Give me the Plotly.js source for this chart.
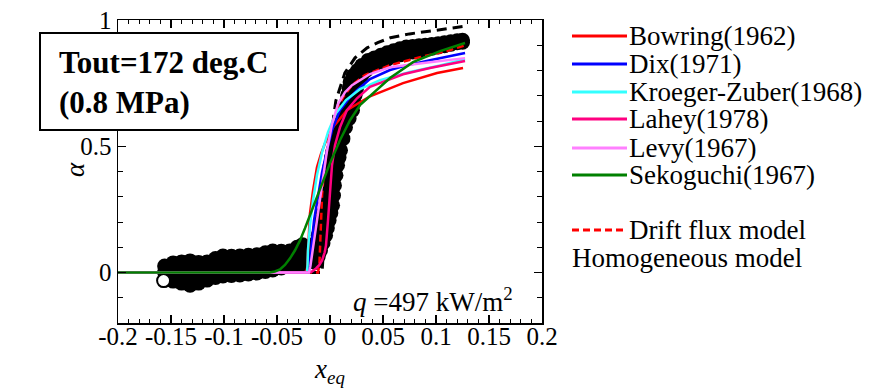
<!DOCTYPE html>
<html><head><meta charset="utf-8">
<script src="https://cdn.plot.ly/plotly-3.0.1.min.js"></script>
<style>html,body{margin:0;padding:0;background:#fff}</style>
</head><body><div id="chart" style="width:882px;height:388px"></div>
<script>
// ---- experimental data (void fraction vs equilibrium quality) ----
var flatX    = [-0.156,-0.148,-0.140,-0.132,-0.124,-0.116,-0.108,-0.101,-0.093,-0.085,-0.077,-0.069,-0.061,-0.054,-0.046,-0.038,-0.031,-0.026];
var flatTopY = [0.026,0.038,0.042,0.046,0.040,0.042,0.055,0.065,0.064,0.065,0.068,0.070,0.078,0.085,0.084,0.085,0.100,0.110];
var flatMidY = [0.000,0.004,0.000,-0.002,0.000,0.006,0.018,0.025,0.026,0.028,0.030,0.034,0.040,0.048,0.052,0.056,0.066,0.072];
var flatBotY = [-0.030,-0.034,-0.042,-0.050,-0.042,-0.030,-0.020,-0.014,-0.012,-0.010,-0.006,-0.002,0.004,0.010,0.018,0.026,0.030,0.035];

var riseY      = [0.040,0.065,0.087,0.117,0.147,0.176,0.206,0.236,0.266,0.305,0.345,0.385,0.425,0.455,0.484,0.530,0.575,0.610,0.643,0.672,0.702,0.730,0.754,0.780,0.800,0.820];
var riseRightX = [-0.0137,-0.0110,-0.0090,-0.0066,-0.0042,-0.0025,-0.0009,0.0008,0.0024,0.0033,0.0042,0.0056,0.0071,0.0085,0.0099,0.0122,0.0146,0.0180,0.0212,0.0224,0.0236,0.0250,0.0264,0.0300,0.0340,0.0380];
var riseLeftX  = [-0.0210,-0.0180,-0.0160,-0.0136,-0.0112,-0.0095,-0.0080,-0.0062,-0.0046,-0.0037,-0.0028,-0.0014,0.0001,0.0015,0.0029,0.0052,0.0076,0.0110,0.0142,0.0154,0.0166,0.0180,0.0190,0.0220,0.0260,0.0300];

var upperX    = [0.036,0.042,0.048,0.054,0.060,0.066,0.072,0.078,0.084,0.090,0.096,0.102,0.108,0.114,0.120,0.125];
var upperTopY = [0.840,0.850,0.860,0.870,0.878,0.886,0.893,0.895,0.898,0.900,0.903,0.906,0.910,0.914,0.918,0.920];
var upperBotY = [0.810,0.822,0.835,0.845,0.855,0.862,0.868,0.873,0.878,0.883,0.888,0.893,0.898,0.904,0.910,0.912];

var openPointX = [-0.157];
var openPointY = [-0.032];

// ---- correlations ----
var bowX = [-0.2,-0.0226,-0.0215,-0.0208,-0.0189,-0.016,-0.0123,-0.0085,-0.0047,0.0028,0.016,0.0377,0.0689,0.101,0.1255];
var bowY = [0,0,0.02,0.067,0.234,0.325,0.417,0.47,0.512,0.575,0.643,0.698,0.75,0.79,0.81];
var dixX = [-0.2,-0.0198,-0.0188,-0.0179,-0.0151,-0.0113,-0.0075,-0.0028,0.0019,0.0094,0.0189,0.0255,0.0377,0.0566,0.0689,0.0943,0.1274];
var dixY = [0,0,0.03,0.087,0.206,0.306,0.397,0.484,0.563,0.643,0.694,0.722,0.766,0.802,0.817,0.841,0.869];
var krzX = [-0.2,-0.0217,-0.0212,-0.0208,-0.0189,-0.016,-0.0123,-0.0075,-0.0019,0.0057,0.0151,0.0283,0.0472,0.0755,0.1038,0.1274];
var krzY = [0,0,0.03,0.087,0.187,0.286,0.385,0.476,0.556,0.631,0.683,0.726,0.762,0.794,0.82,0.845];
var lahX = [-0.2,-0.0208,-0.0170,-0.0132,-0.0100,-0.0075,-0.0050,-0.0038,-0.0019,0,0.0019,0.0047,0.0094,0.016,0.0255,0.0377,0.0689,0.0943,0.1274];
var lahY = [0,0,0.004,0.016,0.030,0.048,0.080,0.107,0.206,0.325,0.425,0.504,0.575,0.643,0.69,0.735,0.785,0.81,0.838];
var levX = [-0.2,-0.0198,-0.0185,-0.017,-0.0132,-0.0094,-0.0057,-0.0028,0.0019,0.0075,0.0142,0.0208,0.0377,0.0566,0.0943,0.1274];
var levY = [0,0,0.025,0.067,0.187,0.286,0.397,0.484,0.587,0.667,0.714,0.742,0.786,0.813,0.833,0.849];
var sekX = [-0.2,-0.0566,-0.0520,-0.0472,-0.0425,-0.0377,-0.0330,-0.0283,-0.0236,-0.0189,-0.0094,0,0.0094,0.0189,0.0283,0.0377,0.0566,0.0783,0.1038,0.1274];
var sekY = [0,0,0.004,0.012,0.030,0.056,0.088,0.127,0.175,0.226,0.325,0.433,0.524,0.603,0.663,0.698,0.77,0.833,0.877,0.909];
var dfX  = [-0.2,-0.0113,-0.0100,-0.0094,-0.0085,-0.0075,-0.0057,-0.0028,0.001,0.0057,0.0123,0.0208,0.033,0.0566,0.0849,0.1104,0.1274];
var dfY  = [0,0,0.03,0.087,0.206,0.306,0.405,0.484,0.563,0.635,0.694,0.742,0.782,0.821,0.853,0.877,0.90];
var homX = [-0.2,-0.0075,-0.006,-0.004,-0.002,0,0.002,0.0035,0.0055,0.0094,0.014,0.0236,0.035,0.045,0.057,0.075,0.094,0.113,0.127];
var homY = [0,0,0.1,0.25,0.4,0.5,0.55,0.62,0.68,0.735,0.79,0.85,0.89,0.91,0.93,0.945,0.955,0.968,0.975];

var legendNames = ['Bowring(1962)','Dix(1971)','Kroeger-Zuber(1968)','Lahey(1978)','Levy(1967)','Sekoguchi(1967)','Drift flux model','Homogeneous model'];
var legendColors = ['#ff0000','#0000ff','#33ffff','#ff0080','#ff80ff','#008000','#ff0000','#000000'];

var xTickVals = [-0.2,-0.15,-0.1,-0.05,0,0.05,0.1,0.15,0.2];
var xTickText = ['-0.2','-0.15','-0.1','-0.05','0','0.05','0.1','0.15','0.2'];
var yTickVals = [0,0.5,1];
var yTickText = ['0','0.5','1'];

var FONT = 'Liberation Serif';

var expX = [].concat(flatX, flatX, flatX, riseLeftX, riseRightX, upperX, upperX);
var expY = [].concat(flatTopY, flatMidY, flatBotY, riseY, riseY, upperTopY, upperBotY);

function curve(x, y, color, dash, w) {
  return {x: x, y: y, type: 'scatter', mode: 'lines', hoverinfo: 'skip', showlegend: false,
          line: {color: color, width: w || 2.5, dash: dash || 'solid', shape: 'linear'}};
}

var traces = [
  {x: expX, y: expY, type: 'scatter', mode: 'markers', showlegend: false, hoverinfo: 'skip',
   marker: {color: '#000', size: 15, line: {width: 0}}},
  {x: openPointX, y: openPointY, type: 'scatter', mode: 'markers', showlegend: false, hoverinfo: 'skip',
   marker: {color: '#fff', size: 13, line: {width: 2, color: '#000'}}},
  curve(homX, homY, '#000000', '10px,6px', 3),
  curve(dfX, dfY, legendColors[6], '7px,4px', 2.5),
  curve(bowX, bowY, legendColors[0]),
  curve(dixX, dixY, legendColors[1]),
  curve(krzX, krzY, legendColors[2]),
  curve(lahX, lahY, legendColors[3]),
  curve(levX, levY, legendColors[4]),
  curve(sekX, sekY, legendColors[5])
];

// plot area in px: x 118..542, y 20..323
var W = 882, H = 388, L = 118, R = 340, T = 20, B = 65;
function px2paperX(p) { return (p - L) / (W - L - R); }
function px2paperY(p) { return (H - B - p) / (H - T - B); }

var shapes = [];
var annotations = [];
var legendRowsPx = [36, 64, 92, 119, 148, 175, 230, 258];
for (var i = 0; i < legendNames.length; i++) {
  var yy = px2paperY(legendRowsPx[i]);
  if (i < 7) {
    shapes.push({type: 'line', xref: 'paper', yref: 'paper', x0: px2paperX(572), x1: px2paperX(627), y0: yy, y1: yy,
      line: {color: legendColors[i], width: 3, dash: i === 6 ? '7px,4px' : 'solid'}});
    annotations.push({xref: 'paper', yref: 'paper', x: px2paperX(627), y: yy, xanchor: 'left', yanchor: 'middle',
      text: legendNames[i], showarrow: false, font: {family: FONT, size: 27, color: '#000'}});
  } else {
    annotations.push({xref: 'paper', yref: 'paper', x: px2paperX(570), y: yy, xanchor: 'left', yanchor: 'middle',
      text: legendNames[i], showarrow: false, font: {family: FONT, size: 27, color: '#000'}});
  }
}
// condition box
shapes.push({type: 'rect', xref: 'paper', yref: 'paper', layer: 'above',
  x0: px2paperX(40), x1: px2paperX(298), y0: px2paperY(130), y1: px2paperY(33),
  fillcolor: '#fff', line: {color: '#000', width: 2}});
annotations.push({xref: 'paper', yref: 'paper', x: px2paperX(57), y: px2paperY(82), xanchor: 'left', yanchor: 'middle',
  align: 'left', showarrow: false, text: '<b>Tout=172 deg.C</b><br><b>(0.8 MPa)</b>',
  font: {family: FONT, size: 31, color: '#000'}});
annotations.push({xref: 'x', yref: 'y', x: 0.1745, y: -0.11, xanchor: 'right', yanchor: 'middle', showarrow: false,
  text: '<i>q</i> =497 kW/m<sup>2</sup>', font: {family: FONT, size: 27, color: '#000'}});
// y-axis symbol (alpha), rotated like the reference
annotations.push({xref: 'paper', yref: 'paper', x: px2paperX(75), y: px2paperY(170), xanchor: 'center', yanchor: 'middle',
  textangle: -90, showarrow: false, text: '<i>α</i>', font: {family: FONT, size: 27, color: '#000'}});

var axisCommon = {
  showline: true, mirror: 'ticks', linecolor: '#000', linewidth: 1.5,
  ticks: 'inside', ticklen: 8, tickwidth: 1.5, tickcolor: '#000',
  showgrid: false, zeroline: false, tickmode: 'array',
  tickfont: {family: FONT, size: 25, color: '#000'}
};

var layout = {
  width: W, height: H, margin: {l: L, r: R, t: T, b: B, pad: 0},
  paper_bgcolor: '#fff', plot_bgcolor: '#fff', showlegend: false,
  font: {family: FONT, color: '#000'},
  xaxis: Object.assign({}, axisCommon, {
    range: [-0.2, 0.2], tickvals: xTickVals, ticktext: xTickText, ticklabelstandoff: -10,
    minor: {tickmode: 'linear', tick0: -0.2, dtick: 0.01, ticks: 'inside', ticklen: 4, tickwidth: 1, tickcolor: '#000', showgrid: false},
    title: {text: '<i>x</i><sub><i>eq</i></sub>', font: {family: FONT, size: 27, color: '#000'}, standoff: 20}
  }),
  yaxis: Object.assign({}, axisCommon, {
    range: [-0.2, 1], tickvals: yTickVals, ticktext: yTickText,
    minor: {tickmode: 'linear', tick0: 0, dtick: 0.1, ticks: 'inside', ticklen: 5, tickwidth: 1, tickcolor: '#000', showgrid: false}
  }),
  shapes: shapes,
  annotations: annotations
};

Plotly.newPlot('chart', traces, layout, {staticPlot: true, displayModeBar: false});
</script></body></html>
